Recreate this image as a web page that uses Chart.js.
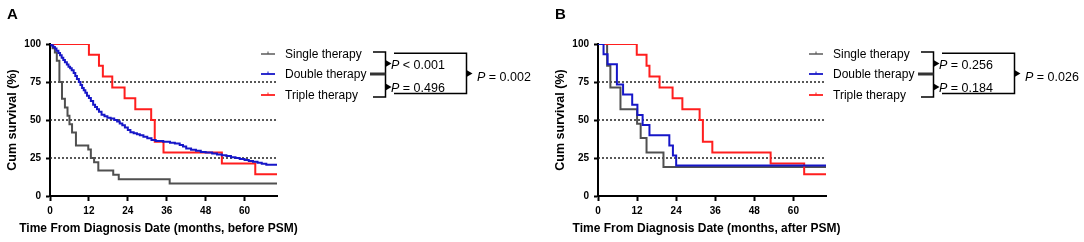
<!DOCTYPE html>
<html>
<head>
<meta charset="utf-8">
<script src="https://cdn.jsdelivr.net/npm/chart.js@4.4.0/dist/chart.umd.min.js"></script>
<style>
  html, body { margin: 0; padding: 0; background: #fff; }
  body { width: 1084px; height: 242px; position: relative; overflow: hidden; font-family: 'Liberation Sans', Arial, sans-serif; }
  .panel { position: absolute; top: 0; width: 542px; height: 242px; }
  #panelA { left: 0; }
  #panelB { left: 548px; }
  #notes { position: absolute; left: 0; top: 0; }
  .letter { font-size: 15px; font-weight: bold; }
  .leg { font-size: 12px; }
  .pv { font-size: 12.5px; }
  .xt { font-size: 12px; font-weight: bold; }
</style>
</head>
<body>
<div class="panel" id="panelA"><canvas id="chartA" width="542" height="242"></canvas></div>
<div class="panel" id="panelB"><canvas id="chartB" width="542" height="242"></canvas></div>
<svg id="notes" width="1084" height="242"></svg>
<script>
const xTicks = [0, 12, 24, 36, 48, 60];
const yTicks = [0, 25, 50, 75, 100];
const refLevels = [25, 50, 75];
const groups = ["Single therapy", "Double therapy", "Triple therapy"];
const colors = ["#505050", "#1616c8", "#ff1e1e"];

// panel A, before PSM (months, cum survival %)
const singleA_t = [0, 0.8, 1.5, 2.1, 2.9, 3.7, 4.6, 5.4, 6.0, 6.8, 8.0, 11.8, 12.6, 13.6, 14.9, 19.5, 21.2, 36.9, 70];
const singleA_s = [100, 97.2, 94.4, 88.9, 75, 63.9, 58.3, 52.8, 47.2, 41.7, 33.3, 30.6, 25, 22.2, 16.7, 13.9, 11.1, 8.3, 8.3];
const doubleA_t = [0, 0.5, 1, 1.5, 2, 2.6, 3.1, 3.6, 4.1, 4.6, 5.2, 5.7, 6.2, 6.7, 7.3, 7.8, 8.3, 8.9, 9.4, 9.9,
  10.4, 10.9, 11.4, 12, 12.6, 13.3, 13.9, 14.5, 15.1, 15.9, 16.8, 17.7, 18.7, 19.8, 20.7, 21.5, 22.3, 23.1, 24, 24.8,
  25.8, 26.8, 27.7, 28.8, 30, 31.3, 32.6, 34.9, 37, 38.5, 40, 41, 42, 43.5, 45, 46.5, 48, 50, 51.5, 53,
  54.4, 55.8, 57.2, 58.5, 60, 61.3, 62.6, 64, 65.3, 66.7, 70];
const doubleA_s = [100, 99, 98, 97, 95.5, 94, 92.6, 91, 89.5, 88, 86.5, 85, 84, 82.7, 81, 79, 77, 75, 73, 71,
  69.5, 68, 66, 64.5, 62.5, 60, 58.5, 57, 55.5, 53.5, 52.5, 51.5, 51, 50, 49, 47.7, 46.5, 45, 43.5, 42,
  41.3, 40.6, 40, 39, 38, 36.8, 36.2, 35.7, 35, 34.6, 33.5, 32.5, 31.3, 30.5, 29.7, 29, 28.6, 28, 27.3, 26.8,
  26.3, 25.5, 25, 24.3, 23.7, 23, 22.5, 21.8, 21.2, 20.6, 20.6];
const tripleA_t = [0, 12, 15.1, 16.3, 19.2, 23, 26.3, 31.2, 32.3, 35, 53, 63.3, 70];
const tripleA_s = [100, 92.9, 85.7, 78.6, 71.4, 64.3, 57.1, 50, 35.7, 28.6, 21.4, 14.3, 14.3];

// panel B, after PSM
const singleB_t = [0, 2.8, 3.8, 6.9, 12, 13.1, 14.9, 20.1, 70];
const singleB_s = [100, 85.7, 71.4, 57.1, 47.6, 38.1, 28.6, 19.0, 19.0];
const doubleB_t = [0, 1.7, 2.95, 5.8, 7.7, 10.5, 12.1, 13.7, 15.8, 21.9, 23, 24, 70];
const doubleB_s = [100, 93.3, 86.7, 73.3, 66.7, 60, 53.3, 46.7, 40, 33.3, 26.7, 20, 20];
const tripleB_t = [0, 11.9, 14.9, 15.8, 18.9, 22.9, 25.9, 31.2, 32.2, 35.1, 53, 63.3, 70];
const tripleB_s = [100, 92.9, 85.7, 78.6, 71.4, 64.3, 57.1, 50, 35.7, 28.6, 21.4, 14.3, 14.3];

const pA = ["P < 0.001", "P = 0.496", "P = 0.002"];
const pB = ["P = 0.256", "P = 0.184", "P = 0.026"];
const xTitleA = "Time From Diagnosis Date (months, before PSM)";
const xTitleB = "Time From Diagnosis Date (months, after PSM)";

Chart.defaults.font.family = "'Liberation Sans', Arial, sans-serif";
Chart.defaults.color = "#000";

const toPoints = (t, s) => t.map((v, i) => ({ x: v, y: s[i] }));

function makeChart(id, curves, rightPad) {
  // order: double on top, then triple, then single
  const drawOrder = [3, 1, 2];
  const datasets = curves.map((c, i) => ({
    data: toPoints(c[0], c[1]),
    borderColor: colors[i],
    borderWidth: 2,
    stepped: true,
    pointRadius: 0,
    fill: false,
    order: drawOrder[i],
  }));
  refLevels.forEach((v) => {
    datasets.push({
      data: [{ x: 0, y: v }, { x: 70, y: v }],
      borderColor: "#222",
      borderWidth: 1.5,
      borderDash: [2, 2],
      pointRadius: 0,
      fill: false,
      order: 10,
    });
  });

  new Chart(document.getElementById(id), {
    type: "line",
    data: { datasets },
    options: {
      responsive: false,
      animation: false,
      layout: { padding: { top: 44, right: rightPad, bottom: 0, left: 0 } },
      plugins: { legend: { display: false }, tooltip: { enabled: false } },
      scales: {
        x: {
          type: "linear",
          min: 0,
          max: 70,
          afterFit: (s) => { s.height = 46; },
          afterBuildTicks: (s) => { s.ticks = xTicks.map((v) => ({ value: v })); },
          grid: { drawOnChartArea: false, tickLength: 5, tickWidth: 2, tickColor: "#000" },
          border: { color: "#000", width: 2 },
          ticks: { color: "#000", font: { size: 10, weight: "bold" }, padding: 4, maxRotation: 0, autoSkip: false },
        },
        y: {
          min: 0,
          max: 100,
          afterFit: (s) => { s.width = 50; },
          afterBuildTicks: (s) => { s.ticks = yTicks.map((v) => ({ value: v })); },
          grid: { drawOnChartArea: false, tickLength: 4, tickWidth: 2, tickColor: "#000" },
          border: { color: "#000", width: 2 },
          ticks: { color: "#000", font: { size: 10, weight: "bold" }, padding: 5 },
          title: { display: true, text: "Cum survival (%)", color: "#000", font: { size: 12.5, weight: "bold" }, padding: { top: 5, bottom: 0 } },
        },
      },
    },
  });
}

makeChart("chartA", [[singleA_t, singleA_s], [doubleA_t, doubleA_s], [tripleA_t, tripleA_s]], 265);
makeChart("chartB", [[singleB_t, singleB_s], [doubleB_t, doubleB_s], [tripleB_t, tripleB_s]], 264);

// legend, p-value brackets, x titles
function pText(x, y, s) {
  const rest = s.slice(1).replace("<", "&lt;");
  return `<text x="${x}" y="${y}" dominant-baseline="central" class="pv"><tspan font-style="italic">P</tspan>${rest}</text>`;
}
const tri = (x, y) => `<path d="M${x} ${y - 3.5} L${x + 6} ${y} L${x} ${y + 3.5} Z" fill="#000"/>`;

function notes(dx, letter, p, xTitle) {
  const rows = [54, 74, 95];
  let out = `<text x="${dx + 7}" y="19" class="letter">${letter}</text>`;
  out += `<text x="${dx + 158.5}" y="228" text-anchor="middle" dominant-baseline="central" class="xt">${xTitle}</text>`;
  groups.forEach((name, i) => {
    out += `<line x1="${dx + 261}" y1="${rows[i]}" x2="${dx + 275}" y2="${rows[i]}" stroke="${colors[i]}" stroke-width="${i === 0 ? 1.4 : 1.8}"/>`;
    out += `<line x1="${dx + 268}" y1="${rows[i] - 2.5}" x2="${dx + 268}" y2="${rows[i]}" stroke="${colors[i]}" stroke-width="1"/>`;
    out += `<text x="${dx + 285}" y="${rows[i]}" dominant-baseline="central" class="leg">${name}</text>`;
  });
  out += `<path d="M${dx + 373} 52 H${dx + 385.5} V97 H${dx + 373}" fill="none" stroke="#000" stroke-width="1.5"/>`;
  out += `<line x1="${dx + 370}" y1="74" x2="${dx + 385.5}" y2="74" stroke="#333" stroke-width="3"/>`;
  out += tri(dx + 385.5, 63.5) + tri(dx + 385.5, 87);
  out += `<path d="M${dx + 394} 53.3 H${dx + 466.5} V93.5 H${dx + 394}" fill="none" stroke="#000" stroke-width="1.5"/>`;
  out += tri(dx + 466.5, 73.5);
  out += pText(dx + 391, 64.5, p[0]) + pText(dx + 391, 87.5, p[1]) + pText(dx + 477, 77, p[2]);
  return out;
}
document.getElementById("notes").innerHTML = notes(0, "A", pA, xTitleA) + notes(548, "B", pB, xTitleB);
</script>
</body>
</html>
